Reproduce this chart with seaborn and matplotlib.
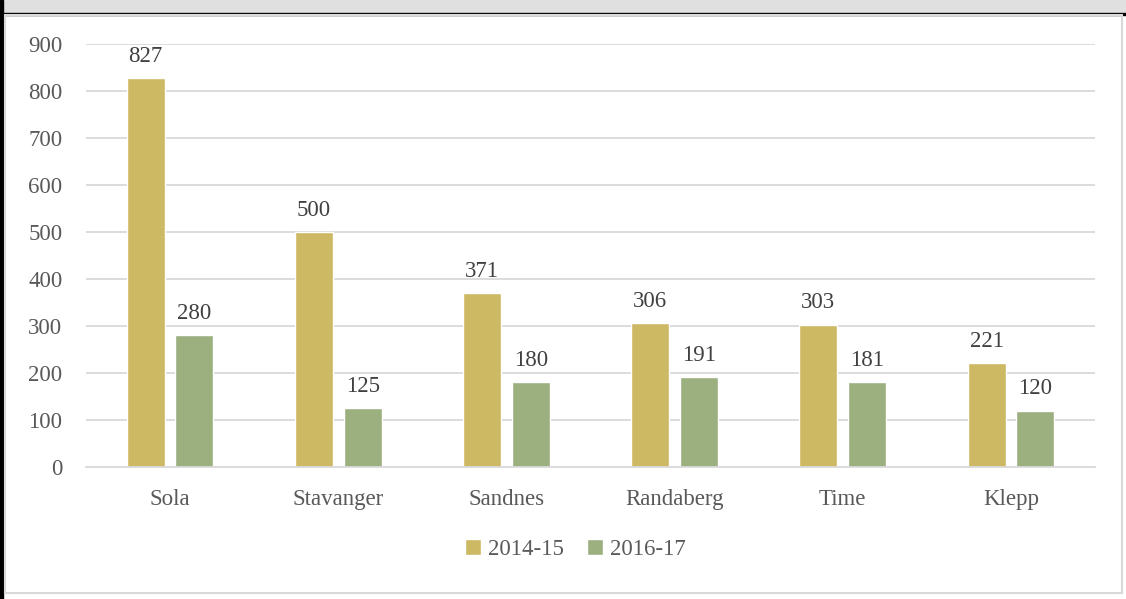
import pandas as pd
import matplotlib.pyplot as plt
import seaborn as sns
from matplotlib.patches import Rectangle

# Data
kommuner = ["Sola", "Stavanger", "Sandnes", "Randaberg", "Time", "Klepp"]
periods = ["2014-15", "2016-17"]
vals_2014 = [827, 500, 371, 306, 303, 221]
vals_2016 = [280, 125, 180, 191, 181, 120]

df = pd.DataFrame({
    "kommune": kommuner * 2,
    "periode": [periods[0]] * 6 + [periods[1]] * 6,
    "antall": vals_2014 + vals_2016,
})

sns.set_theme(style="white")
plt.rcParams["font.family"] = ["Liberation Serif", "DejaVu Serif"]
txt = "#595959"
fs = 16.5

fig = plt.figure(figsize=(11.26, 5.99), dpi=100)
# frame bits (cropped title bar + panel border)
fig.patches.append(Rectangle((0, 1 - 13/599), 1, 13/599, transform=fig.transFigure, color="#e0e0e0", zorder=0))
fig.patches.append(Rectangle((0, 1 - 15/599), 1, 2/599, transform=fig.transFigure, color="black", zorder=1))
fig.patches.append(Rectangle((0, 0), 3/1126, 1, transform=fig.transFigure, color="black", zorder=1))
fig.patches.append(Rectangle((5/1126, 6/599), 1117/1126, 578/599, transform=fig.transFigure,
                             fill=False, edgecolor="#d9d9d9", lw=1.5, zorder=1))

ax = fig.add_axes([86/1126, 1 - 467/599, 1009/1126, 423/599])
sns.barplot(data=df, x="kommune", y="antall", hue="periode", ax=ax,
            palette=["#cdb964", "#9baf7f"], width=0.58, gap=0.22, saturation=1)

for c in ax.containers:
    ax.bar_label(c, padding=8, fontsize=fs, color="#404040")

ax.set_ylim(0, 900)
ax.set_yticks(range(0, 901, 100))
ax.yaxis.grid(True, color="#d9d9d9", lw=1.3)
ax.set_axisbelow(True)
for s in ["top", "right", "left"]:
    ax.spines[s].set_visible(False)
ax.spines["bottom"].set_color("#d9d9d9")
ax.spines["bottom"].set_linewidth(1.3)
ax.tick_params(axis="y", length=0, pad=17, labelsize=fs, labelcolor=txt)
ax.tick_params(axis="x", length=0, pad=16, labelsize=fs, labelcolor=txt)
ax.set_xlabel("")
ax.set_ylabel("")

ax.legend(loc="center", bbox_to_anchor=(0.485, -0.195), ncol=2, frameon=False,
          fontsize=fs, labelcolor=txt, handlelength=0.7, handleheight=0.7,
          handletextpad=0.3, columnspacing=1.0)

fig.savefig("out.png", dpi=100)
